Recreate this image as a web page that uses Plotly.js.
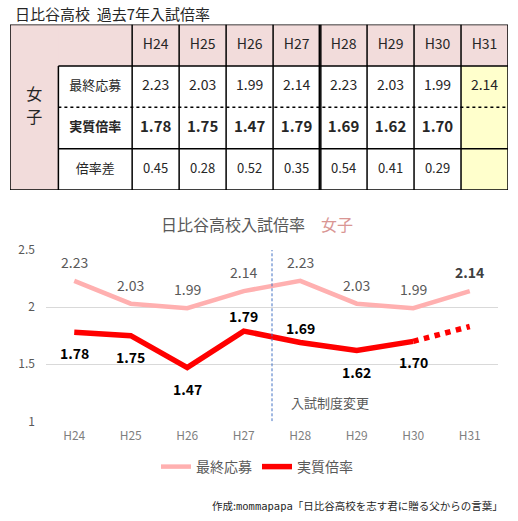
<!DOCTYPE html>
<html><head><meta charset="utf-8">
<script src="https://cdn.plot.ly/plotly-3.0.1.min.js"></script>
<style>html,body{margin:0;padding:0;background:#fff}</style>
</head><body><div id="chart" style="width:518px;height:521px"></div>
<script>
// ---- data ----
const years = ['H24','H25','H26','H27','H28','H29','H30','H31'];
const finalRatio = [2.23, 2.03, 1.99, 2.14, 2.23, 2.03, 1.99, 2.14];
const actualRatio = [1.78, 1.75, 1.47, 1.79, 1.69, 1.62, 1.70];
const ratioGap = [0.45, 0.28, 0.52, 0.35, 0.54, 0.41, 0.29];
const projectedActual = 1.83;
const rowLabels = ['最終応募', '実質倍率', '倍率差'];
const groupLabel = ['女', '子'];
const seriesNames = ['最終応募', '実質倍率'];
const tableTitle = ['日比谷高校', '過去7年入試倍率'];
const chartTitle = '日比谷高校入試倍率';
const chartSub = '女子';
const changeNote = '入試制度変更';
const footer = ['作成:', 'mommapapa', '「日比谷高校を志す君に贈る父からの言葉」'];

// ---- styling / layout helpers ----
const W = 518, H = 521;
const px = x => x / W, py = y => 1 - y / H;
const FONT = '"Noto Sans CJK JP", "Noto Sans", sans-serif';
const PINK = '#f2dcdb', YELLOW = '#ffffcc';
const LINE_PINK = '#ffb0b0', LINE_RED = '#ff0000';
const fmt = v => v.toFixed(2);
const n = years.length;
const colLeft = -2.6, colLabel = -1.57;
const mid = years.map((_, i) => i + 0.5);

const traces = [];
// table texts
const txt = (x, y, text, size) => ({
  type: 'scatter', mode: 'text', x, y, text, xaxis: 'x2', yaxis: 'y2',
  textposition: 'middle center', hoverinfo: 'skip', showlegend: false,
  textfont: {family: FONT, size, color: '#262626'}
});
traces.push(txt(mid, mid.map(() => 0.5), years, 14));
traces.push(txt(mid, mid.map(() => 1.5), finalRatio.map(fmt), 14));
traces.push(txt(mid.slice(0, actualRatio.length), actualRatio.map(() => 2.5), actualRatio.map(v => '<b>' + fmt(v) + '</b>'), 15));
traces.push(txt(mid.slice(0, ratioGap.length), ratioGap.map(() => 3.5), ratioGap.map(fmt), 13));
traces.push(txt(rowLabels.map(() => colLabel / 2), [1.5, 2.5, 3.5],
  rowLabels.map((t, i) => i === 1 ? '<b>' + t + '</b>' : t), 13));
traces.push(txt(groupLabel.map(() => (colLeft + colLabel) / 2), [1.72, 2.28], groupLabel, 16));

// chart series
traces.push({
  type: 'scatter', mode: 'lines', name: seriesNames[0], x: years, y: finalRatio,
  line: {color: LINE_PINK, width: 4.5}, hoverinfo: 'skip'
});
traces.push({
  type: 'scatter', mode: 'lines', name: seriesNames[1], x: years.slice(0, actualRatio.length), y: actualRatio,
  line: {color: LINE_RED, width: 5.5}, hoverinfo: 'skip'
});
traces.push({
  type: 'scatter', mode: 'lines', showlegend: false,
  x: [years[actualRatio.length - 1], years[actualRatio.length]],
  y: [actualRatio[actualRatio.length - 1], projectedActual],
  line: {color: LINE_RED, width: 5.5, dash: 'dot'}, hoverinfo: 'skip'
});

// shapes
const shapes = [];
const rect = (x0, x1, y0, y1, fill) => ({type: 'rect', xref: 'x2', yref: 'y2', x0, x1, y0, y1,
  fillcolor: fill, line: {width: 0}, layer: 'below'});
shapes.push(rect(colLeft, n, 0, 1, PINK));
shapes.push(rect(colLeft, colLabel, 0, 4, PINK));
shapes.push(rect(n - 1, n, 1, 4, YELLOW));
const ln = (x0, x1, y0, y1, dash) => ({type: 'line', xref: 'x2', yref: 'y2', x0, x1, y0, y1,
  line: {color: '#000', width: 1.5, dash: dash || 'solid'}});
shapes.push({type: 'rect', xref: 'x2', yref: 'y2', x0: colLeft, x1: n, y0: 0, y1: 4,
  fillcolor: 'rgba(0,0,0,0)', line: {color: '#000', width: 1.5}});
shapes.push(ln(colLabel, colLabel, 1, 4));
for (let i = 0; i < n; i++) {
  if (i === 4) { shapes.push(ln(i - 0.016, i - 0.016, 0, 4)); shapes.push(ln(i + 0.016, i + 0.016, 0, 4)); }
  else shapes.push(ln(i, i, 0, 4));
}
shapes.push(ln(colLabel, n, 1, 1));
shapes.push(ln(colLabel, n, 2, 2, 'dot'));
shapes.push(ln(colLabel, n, 3, 3));
// system change marker
shapes.push({type: 'line', xref: 'x', yref: 'y', x0: 3.5, x1: 3.5, y0: 1, y1: 2.535,
  line: {color: '#4472c4', width: 1, dash: '3px,2px'}});

// annotations
const ann = [];
ann.push({xref: 'paper', yref: 'paper', x: px(13), y: py(14), xanchor: 'left', yanchor: 'middle',
  text: tableTitle.join('\u00a0\u00a0'), showarrow: false, font: {family: FONT, size: 15, color: '#262626'}});
ann.push({xref: 'paper', yref: 'paper', x: px(257), y: py(224), xanchor: 'center', yanchor: 'middle',
  text: chartTitle + '　<span style="color:#d99694">' + chartSub + '</span>', showarrow: false,
  font: {family: FONT, size: 16, color: '#595959'}});
ann.push({xref: 'paper', yref: 'paper', x: px(505), y: py(505), xanchor: 'right', yanchor: 'middle',
  text: footer[0] + '<span style="font-family:DejaVu Sans Mono,monospace">' + footer[1] + '</span>' + footer[2],
  showarrow: false, font: {family: FONT, size: 10.5, color: '#262626'}});
ann.push({xref: 'x', yref: 'y', x: 3.5, y: 1.163, xanchor: 'left', yanchor: 'middle', xshift: 17,
  text: changeNote, showarrow: false, font: {family: FONT, size: 13, color: '#595959'}});
finalRatio.forEach((v, i) => {
  const last = i === n - 1;
  ann.push({xref: 'x', yref: 'y', x: i, y: v, yshift: 19, showarrow: false,
    text: last ? '<b>' + fmt(v) + '</b>' : fmt(v),
    font: {family: FONT, size: 14, color: last ? '#404040' : '#595959'}});
});
const redAbove = [false, false, false, true, true, false, false];
actualRatio.forEach((v, i) => {
  ann.push({xref: 'x', yref: 'y', x: i, y: v, yshift: redAbove[i] ? 15 : -21, showarrow: false,
    text: '<b>' + fmt(v) + '</b>', font: {family: FONT, size: 14, color: '#000'}});
});

const layout = {
  width: W, height: H, margin: {l: 0, r: 0, t: 0, b: 0},
  paper_bgcolor: '#fff', plot_bgcolor: 'rgba(0,0,0,0)', hovermode: false,
  font: {family: FONT},
  xaxis: {type: 'category', categoryarray: years, domain: [px(46), px(498)], range: [-0.5, n - 0.5],
    showgrid: false, zeroline: false, showline: false, ticks: '', ticklabelstandoff: 6,
    tickfont: {family: FONT, size: 12, color: '#7f7f7f'}, anchor: 'y', fixedrange: true},
  yaxis: {domain: [py(421.3), py(250)], range: [1, 2.5], dtick: 0.5, tick0: 1,
    gridcolor: '#d9d9d9', gridwidth: 1, zeroline: false, showline: false, ticks: '', ticklabelstandoff: 10,
    tickfont: {family: FONT, size: 12, color: '#595959'}, anchor: 'x', fixedrange: true},
  xaxis2: {type: 'linear', domain: [px(10), px(508)], range: [colLeft, n], visible: false, anchor: 'y2', fixedrange: true},
  yaxis2: {type: 'linear', domain: [py(190), py(24.5)], range: [4, 0], visible: false, anchor: 'x2', fixedrange: true},
  showlegend: true,
  legend: {orientation: 'h', x: px(257), xanchor: 'center', y: py(467), yanchor: 'middle',
    font: {family: FONT, size: 14, color: '#595959'}, bgcolor: 'rgba(0,0,0,0)'},
  shapes, annotations: ann
};
Plotly.newPlot('chart', traces, layout, {displayModeBar: false, staticPlot: true});
</script></body></html>
